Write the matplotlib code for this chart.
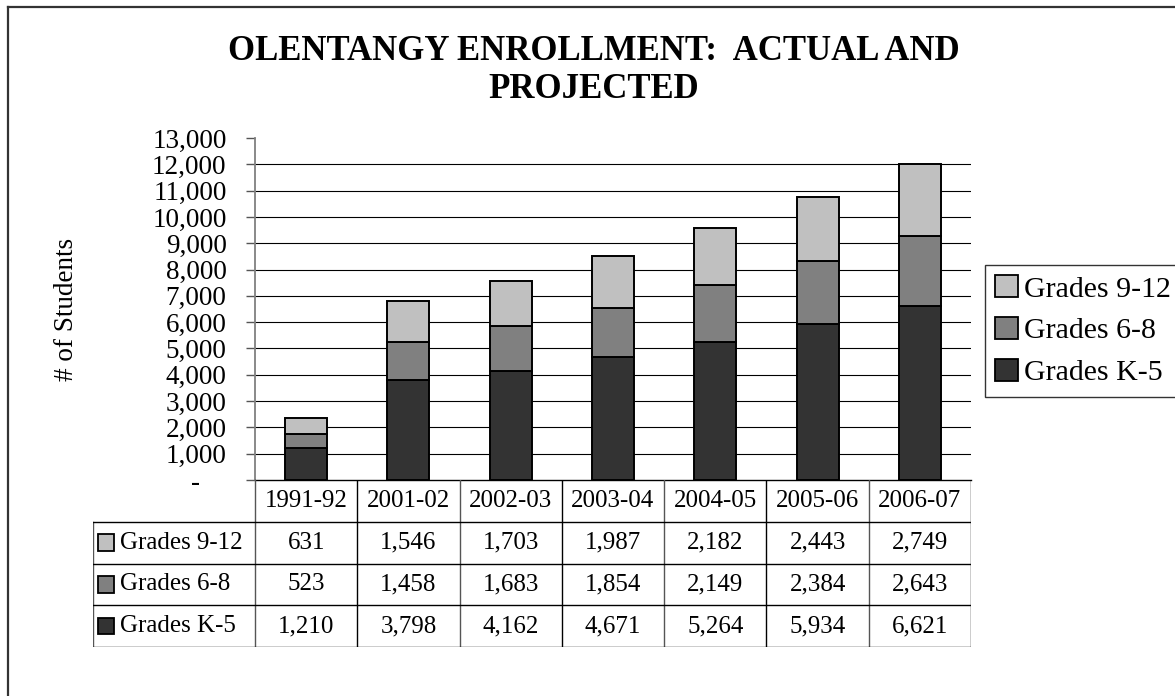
import matplotlib
matplotlib.use("Agg")
import matplotlib.pyplot as plt
from matplotlib.lines import Line2D
from matplotlib.patches import Rectangle, Patch

plt.rcParams.update({
    "font.family": "serif",
    "font.serif": ["Liberation Serif", "DejaVu Serif"],
})

years = ["1991-92", "2001-02", "2002-03", "2003-04", "2004-05", "2005-06", "2006-07"]
k5 = [1210, 3798, 4162, 4671, 5264, 5934, 6621]
g68 = [523, 1458, 1683, 1854, 2149, 2384, 2643]
g912 = [631, 1546, 1703, 1987, 2182, 2443, 2749]
series_names = ["Grades 9-12", "Grades 6-8", "Grades K-5"]
y_ticks = list(range(0, 13001, 1000))

C_K5 = "#333333"; C_68 = "#808080"; C_912 = "#C0C0C0"

W, H = 1175, 696
fig = plt.figure(figsize=(W / 100, H / 100), dpi=100)

def fx(px): return px / W
def fy(py): return 1 - py / H

# main axes: plot area 255..971 x 138..480 (pixels)
ax = fig.add_axes([fx(255), fy(480), fx(971) - fx(255), fy(138) - fy(480)])
x = list(range(len(years)))
bw = 0.41
ekw = dict(edgecolor="black", linewidth=1.4, zorder=3)
ax.bar(x, k5, bw, color=C_K5, **ekw)
ax.bar(x, g68, bw, bottom=k5, color=C_68, **ekw)
bot3 = [a + b for a, b in zip(k5, g68)]
ax.bar(x, g912, bw, bottom=bot3, color=C_912, **ekw)

ax.set_xlim(-0.5, len(years) - 0.5)
ax.set_ylim(0, 13000)
ax.hlines(y_ticks[1:-1], -0.5, len(years) - 0.5, color="black", lw=0.8, zorder=1)
ax.set_yticks(y_ticks)
ax.set_yticklabels(["-    " if v == 0 else f"{v:,}" for v in y_ticks], fontsize=19.5)
ax.tick_params(axis="y", direction="out", length=6.5, width=1.0, pad=14, color="#555555")
ax.set_xticks([])
for s in ["top", "right"]:
    ax.spines[s].set_visible(False)
ax.spines["left"].set_color("#808080")
ax.spines["left"].set_linewidth(1.3)
ax.spines["bottom"].set_color("black")
ax.spines["bottom"].set_linewidth(1.0)
ax.set_ylabel("# of Students", fontsize=19.5)
ax.yaxis.set_label_coords((79 - 255) / 716, 0.5)

# data table below the plot
tab = fig.add_axes([fx(93), fy(647), fx(971) - fx(93), fy(480) - fy(647)])
left = -0.5 - (255 - 93) / ((971 - 255) / len(years))
tab.set_xlim(left, len(years) - 0.5)
tab.set_ylim(4, 0)
tab.axis("off")
for i in range(len(years) + 1):
    tab.plot([i - 0.5, i - 0.5], [0, 4], color="#555555" if i % 2 == 0 else "black", lw=1.0)
tab.plot([left, left], [1, 4], color="#555555", lw=1.0)
for r in [1, 2, 3, 4]:
    tab.plot([left, len(years) - 0.5], [r, r], color="black", lw=1.0)
for i, yr in enumerate(years):
    tab.text(i, 0.5, yr, ha="center", va="center", fontsize=18)
rows = [(series_names[0], g912, C_912), (series_names[1], g68, C_68), (series_names[2], k5, C_K5)]
for r, (name, vals, col) in enumerate(rows, start=1):
    tab.add_patch(Rectangle((left + 0.05, r + 0.5 - 0.2), 0.16, 0.4, facecolor=col,
                            edgecolor="black", lw=1.3))
    tab.text(left + 0.26, r + 0.5, name, ha="left", va="center", fontsize=18)
    for i, v in enumerate(vals):
        tab.text(i, r + 0.5, f"{v:,}", ha="center", va="center", fontsize=18)

# legend
handles = [Patch(facecolor=c, edgecolor="black", lw=1.3) for c in [C_912, C_68, C_K5]]
leg = fig.legend(handles, series_names, loc="upper left", bbox_to_anchor=(fx(985), fy(265)),
                 fontsize=21.5, frameon=True, fancybox=False, edgecolor="black",
                 handlelength=0.75, handleheight=0.75, handletextpad=0.2,
                 labelspacing=0.48, borderpad=0.35, borderaxespad=0)
leg.get_frame().set_linewidth(1.0)

# title
fig.text(fx(594), fy(51), "OLENTANGY ENROLLMENT:  ACTUAL AND", ha="center", va="center",
         fontsize=25, fontweight="bold")
fig.text(fx(594), fy(89), "PROJECTED", ha="center", va="center", fontsize=25, fontweight="bold")

# chart-area border (top and left edges visible)
fig.add_artist(Line2D([fx(8), 1], [fy(7), fy(7)], color="#333333", lw=1.6))
fig.add_artist(Line2D([fx(8), fx(8)], [0, fy(7)], color="#333333", lw=1.6))

fig.savefig("out.png", dpi=100)
